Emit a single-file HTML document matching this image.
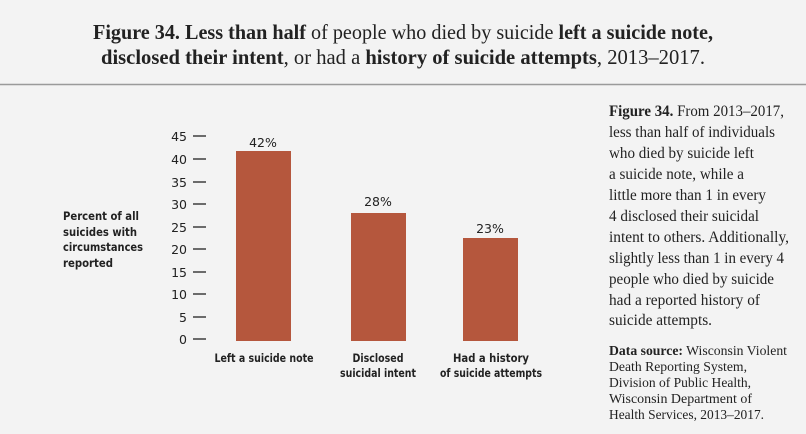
<!DOCTYPE html>
<html><head><meta charset="utf-8"><style>
html,body{margin:0;padding:0;background:#f3f3f3;}
svg{display:block;}
.s{font-family:"Liberation Serif",serif;fill:#222;}
.a{font-family:"DejaVu Sans","Liberation Sans",sans-serif;fill:#222;}
</style></head><body>
<svg width="806" height="434" viewBox="0 0 806 434" xmlns="http://www.w3.org/2000/svg">
<rect width="806" height="434" fill="#f3f3f3"/>
<g class="s" font-size="21" text-anchor="middle">
<text x="403" y="39" textLength="620" lengthAdjust="spacingAndGlyphs"><tspan font-weight="bold">Figure 34. Less than half</tspan> of people who died by suicide <tspan font-weight="bold">left a suicide note,</tspan></text>
<text x="403" y="64" textLength="604" lengthAdjust="spacingAndGlyphs"><tspan font-weight="bold">disclosed their intent</tspan>, or had a <tspan font-weight="bold">history of suicide attempts</tspan>, 2013–2017.</text>
</g>
<line x1="0" y1="84.5" x2="806" y2="84.5" stroke="#9a9a9a" stroke-width="1.5"/>

<!-- ticks -->
<g stroke="#222" stroke-width="1.3">
<line x1="193" x2="206" y1="136" y2="136"/><line x1="193" x2="206" y1="159" y2="159"/>
<line x1="193" x2="206" y1="182" y2="182"/><line x1="193" x2="206" y1="204" y2="204"/>
<line x1="193" x2="206" y1="227" y2="227"/><line x1="193" x2="206" y1="249" y2="249"/>
<line x1="193" x2="206" y1="272" y2="272"/><line x1="193" x2="206" y1="294" y2="294"/>
<line x1="193" x2="206" y1="317" y2="317"/><line x1="193" x2="206" y1="339" y2="339"/>
</g>
<g class="a" font-size="12.5" text-anchor="end">
<text x="187" y="141">45</text><text x="187" y="164">40</text><text x="187" y="187">35</text>
<text x="187" y="209">30</text><text x="187" y="232">25</text><text x="187" y="254">20</text>
<text x="187" y="277">15</text><text x="187" y="299">10</text><text x="187" y="322">5</text>
<text x="187" y="344">0</text>
</g>
<g class="a" font-size="11.5" font-weight="bold">
<text x="63" y="220" textLength="76" lengthAdjust="spacingAndGlyphs">Percent of all</text>
<text x="63" y="236" textLength="74" lengthAdjust="spacingAndGlyphs">suicides with</text>
<text x="63" y="251" textLength="80" lengthAdjust="spacingAndGlyphs">circumstances</text>
<text x="63" y="267" textLength="50" lengthAdjust="spacingAndGlyphs">reported</text>
</g>
<g fill="#b5573d">
<rect x="236" y="151" width="55" height="190"/>
<rect x="351" y="213" width="55" height="128"/>
<rect x="463" y="238" width="55" height="103"/>
</g>
<g class="a" font-size="12.5" text-anchor="middle">
<text x="263" y="147">42%</text><text x="378" y="206">28%</text><text x="490" y="233">23%</text>
</g>
<g class="a" font-size="11.5" font-weight="bold" text-anchor="middle">
<text x="264" y="362" textLength="99" lengthAdjust="spacingAndGlyphs">Left a suicide note</text>
<text x="378" y="362" textLength="51" lengthAdjust="spacingAndGlyphs">Disclosed</text>
<text x="378" y="377" textLength="76" lengthAdjust="spacingAndGlyphs">suicidal intent</text>
<text x="491" y="362" textLength="76" lengthAdjust="spacingAndGlyphs">Had a history</text>
<text x="491" y="377" textLength="102" lengthAdjust="spacingAndGlyphs">of suicide attempts</text>
</g>
<g class="s" font-size="15.5">
<text x="609" y="116" textLength="175" lengthAdjust="spacingAndGlyphs"><tspan font-weight="bold">Figure 34.</tspan> From 2013–2017,</text>
<text x="609" y="137" textLength="166" lengthAdjust="spacingAndGlyphs">less than half of individuals</text>
<text x="609" y="158" textLength="145" lengthAdjust="spacingAndGlyphs">who died by suicide left</text>
<text x="609" y="179" textLength="135" lengthAdjust="spacingAndGlyphs">a suicide note, while a</text>
<text x="609" y="200" textLength="157" lengthAdjust="spacingAndGlyphs">little more than 1 in every</text>
<text x="609" y="221" textLength="150" lengthAdjust="spacingAndGlyphs">4 disclosed their suicidal</text>
<text x="609" y="242" textLength="180" lengthAdjust="spacingAndGlyphs">intent to others. Additionally,</text>
<text x="609" y="263" textLength="175" lengthAdjust="spacingAndGlyphs">slightly less than 1 in every 4</text>
<text x="609" y="284" textLength="165" lengthAdjust="spacingAndGlyphs">people who died by suicide</text>
<text x="609" y="305" textLength="151" lengthAdjust="spacingAndGlyphs">had a reported history of</text>
<text x="609" y="325" textLength="103" lengthAdjust="spacingAndGlyphs">suicide attempts.</text>
</g>
<g class="s" font-size="13.5">
<text x="609" y="355" textLength="178" lengthAdjust="spacingAndGlyphs"><tspan font-weight="bold">Data source:</tspan> Wisconsin Violent</text>
<text x="609" y="371" textLength="138" lengthAdjust="spacingAndGlyphs">Death Reporting System,</text>
<text x="609" y="387" textLength="142" lengthAdjust="spacingAndGlyphs">Division of Public Health,</text>
<text x="609" y="403" textLength="143" lengthAdjust="spacingAndGlyphs">Wisconsin Department of</text>
<text x="609" y="419" textLength="155" lengthAdjust="spacingAndGlyphs">Health Services, 2013–2017.</text>
</g>
</svg>
</body></html>
